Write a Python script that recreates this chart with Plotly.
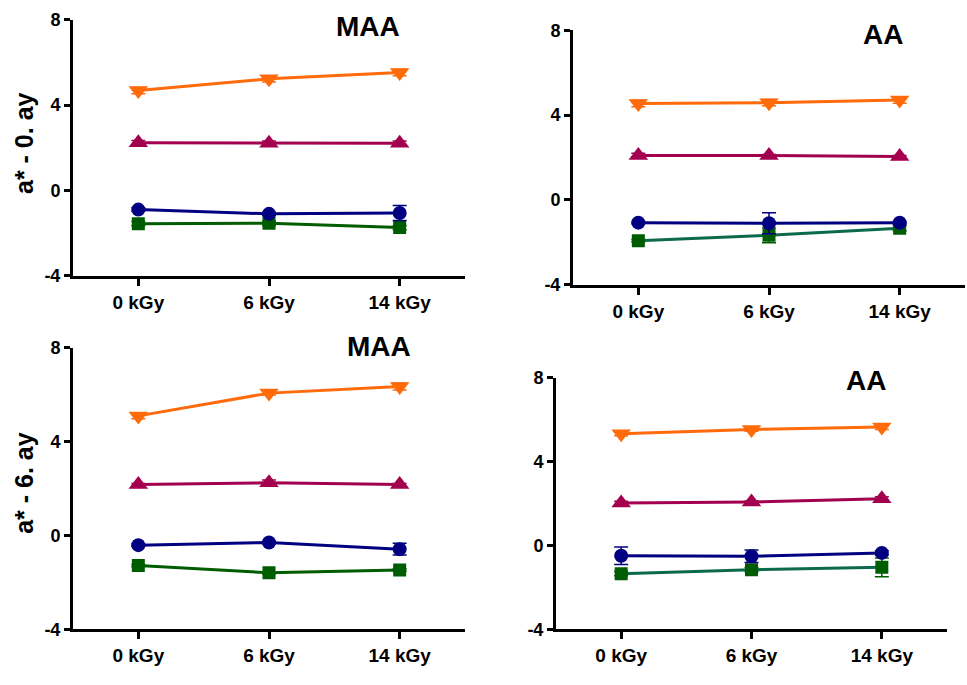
import plotly.graph_objects as go

categories = ["0 kGy", "6 kGy", "14 kGy"]
y_ticks = [-4, 0, 4, 8]

# Panel A: MAA, day 0
p1_orange = [4.68, 5.23, 5.53]
p1_purple = [2.24, 2.22, 2.22]
p1_blue = [-0.89, -1.09, -1.05]
p1_green = [-1.55, -1.53, -1.73]
p1_orange_err = [0.15, 0.15, 0.15]
p1_purple_err = [0.1, 0.1, 0.1]
p1_blue_err = [0.08, 0.08, 0.35]
p1_green_err = [0.1, 0.1, 0.1]

# Panel B: AA, day 0
p2_orange = [4.55, 4.59, 4.71]
p2_purple = [2.1, 2.1, 2.05]
p2_blue = [-1.07, -1.1, -1.07]
p2_green = [-1.92, -1.67, -1.33]
p2_orange_err = [0.15, 0.15, 0.15]
p2_purple_err = [0.1, 0.05, 0.05]
p2_blue_err = [0.05, 0.5, 0.05]
p2_green_err = [0.05, 0.35, 0.12]

# Panel C: MAA, day 6
p3_orange = [5.1, 6.07, 6.35]
p3_purple = [2.17, 2.25, 2.17]
p3_blue = [-0.41, -0.30, -0.58]
p3_green = [-1.28, -1.59, -1.47]
p3_orange_err = [0.12, 0.08, 0.15]
p3_purple_err = [0.05, 0.12, 0.05]
p3_blue_err = [0.05, 0.05, 0.25]
p3_green_err = [0.05, 0.05, 0.05]

# Panel D: AA, day 6
p4_orange = [5.34, 5.54, 5.66]
p4_purple = [2.03, 2.08, 2.23]
p4_blue = [-0.49, -0.51, -0.35]
p4_green = [-1.34, -1.15, -1.04]
p4_orange_err = [0.1, 0.08, 0.12]
p4_purple_err = [0.08, 0.05, 0.1]
p4_blue_err = [0.42, 0.3, 0.1]
p4_green_err = [0.1, 0.1, 0.45]

panel_titles = ["MAA", "AA", "MAA", "AA"]
y_titles = ["a* - 0. ay", "a* - 6. ay"]

ORANGE = "#ff6a0a"
PURPLE = "#a3004f"
BLUE = "#000080"
GREEN_M = "#005c00"

panels = [
    dict(ax="", o=p1_orange, p=p1_purple, b=p1_blue, g=p1_green,
         oe=p1_orange_err, pe=p1_purple_err, be=p1_blue_err, ge=p1_green_err, gl=GREEN_M),
    dict(ax="2", o=p2_orange, p=p2_purple, b=p2_blue, g=p2_green,
         oe=p2_orange_err, pe=p2_purple_err, be=p2_blue_err, ge=p2_green_err, gl="#0c6a4c"),
    dict(ax="3", o=p3_orange, p=p3_purple, b=p3_blue, g=p3_green,
         oe=p3_orange_err, pe=p3_purple_err, be=p3_blue_err, ge=p3_green_err, gl=GREEN_M),
    dict(ax="4", o=p4_orange, p=p4_purple, b=p4_blue, g=p4_green,
         oe=p4_orange_err, pe=p4_purple_err, be=p4_blue_err, ge=p4_green_err, gl="#0c6a4c"),
]

fig = go.Figure()
xi = [0, 1, 2]


def add_series(ax, y, err, color, linecolor, symbol, size):
    fig.add_trace(go.Scatter(
        x=xi, y=y, mode="lines+markers",
        xaxis="x" + ax, yaxis="y" + ax,
        line=dict(color=linecolor, width=3),
        marker=dict(color=color, symbol=symbol, size=size, line=dict(width=0)),
        error_y=dict(type="data", array=err, color=color, thickness=1.5, width=7),
        showlegend=False,
    ))


for pn in panels:
    ax = pn["ax"]
    add_series(ax, pn["g"], pn["ge"], GREEN_M, pn["gl"], "square", 13)
    add_series(ax, pn["b"], pn["be"], BLUE, BLUE, "circle", 14)
    add_series(ax, pn["p"], pn["pe"], PURPLE, PURPLE, "triangle-up", 17)
    add_series(ax, pn["o"], pn["oe"], ORANGE, ORANGE, "triangle-down", 17)

W, H = 967, 685
# pixel boxes (x0, x1, ytop, ybottom)
boxes = [(73, 465, 10, 274), (573, 965, 21, 283), (73, 465, 348, 638), (556, 947, 379, 638)]

font_fam = "Liberation Sans, Arial, sans-serif"
layout = dict(
    width=W, height=H, margin=dict(l=0, r=0, t=0, b=0),
    paper_bgcolor="white", plot_bgcolor="white",
    font=dict(family=font_fam, color="black"),
)
for i, (x0, x1, yt, yb) in enumerate(boxes):
    suf = "" if i == 0 else str(i + 1)
    layout["xaxis" + suf] = dict(
        domain=[x0 / W, x1 / W], anchor="y" + suf,
        range=[-0.5, 2.5], tickmode="array", tickvals=xi, ticktext=categories,
        showline=True, linecolor="black", linewidth=3,
        ticks="outside", ticklen=7, tickwidth=3, tickcolor="black",
        showgrid=False, zeroline=False,
        tickfont=dict(size=19, family=font_fam, weight="bold", color="black"),
    )
    layout["yaxis" + suf] = dict(
        domain=[1 - yb / H, 1 - yt / H], anchor="x" + suf,
        range=[-4, 8], tickmode="array", tickvals=y_ticks,
        ticktext=[str(v) for v in y_ticks],
        showline=True, linecolor="black", linewidth=3,
        ticks="outside", ticklen=6, tickwidth=3, tickcolor="black",
        showgrid=False, zeroline=False,
        tickfont=dict(size=18, family=font_fam, weight="bold", color="black"),
    )

fig.update_layout(**layout)

title_pos = [(368, 17), (883, 25), (379, 347), (866, 382)]
for t, (px, py) in zip(panel_titles, title_pos):
    fig.add_annotation(x=px / W, y=1 - py / H, xref="paper", yref="paper",
                       text=t, showarrow=False, xanchor="center", yanchor="middle",
                       font=dict(size=28, family=font_fam, weight="bold", color="black"))

ylab_pos = [(24, 137), (24, 487)]
for t, (px, py) in zip(y_titles, ylab_pos):
    fig.add_annotation(x=px / W, y=1 - py / H, xref="paper", yref="paper",
                       text=t, showarrow=False, textangle=-90,
                       xanchor="center", yanchor="middle",
                       font=dict(size=25, family=font_fam, weight="bold", color="black"))

fig.write_html("out.html")
